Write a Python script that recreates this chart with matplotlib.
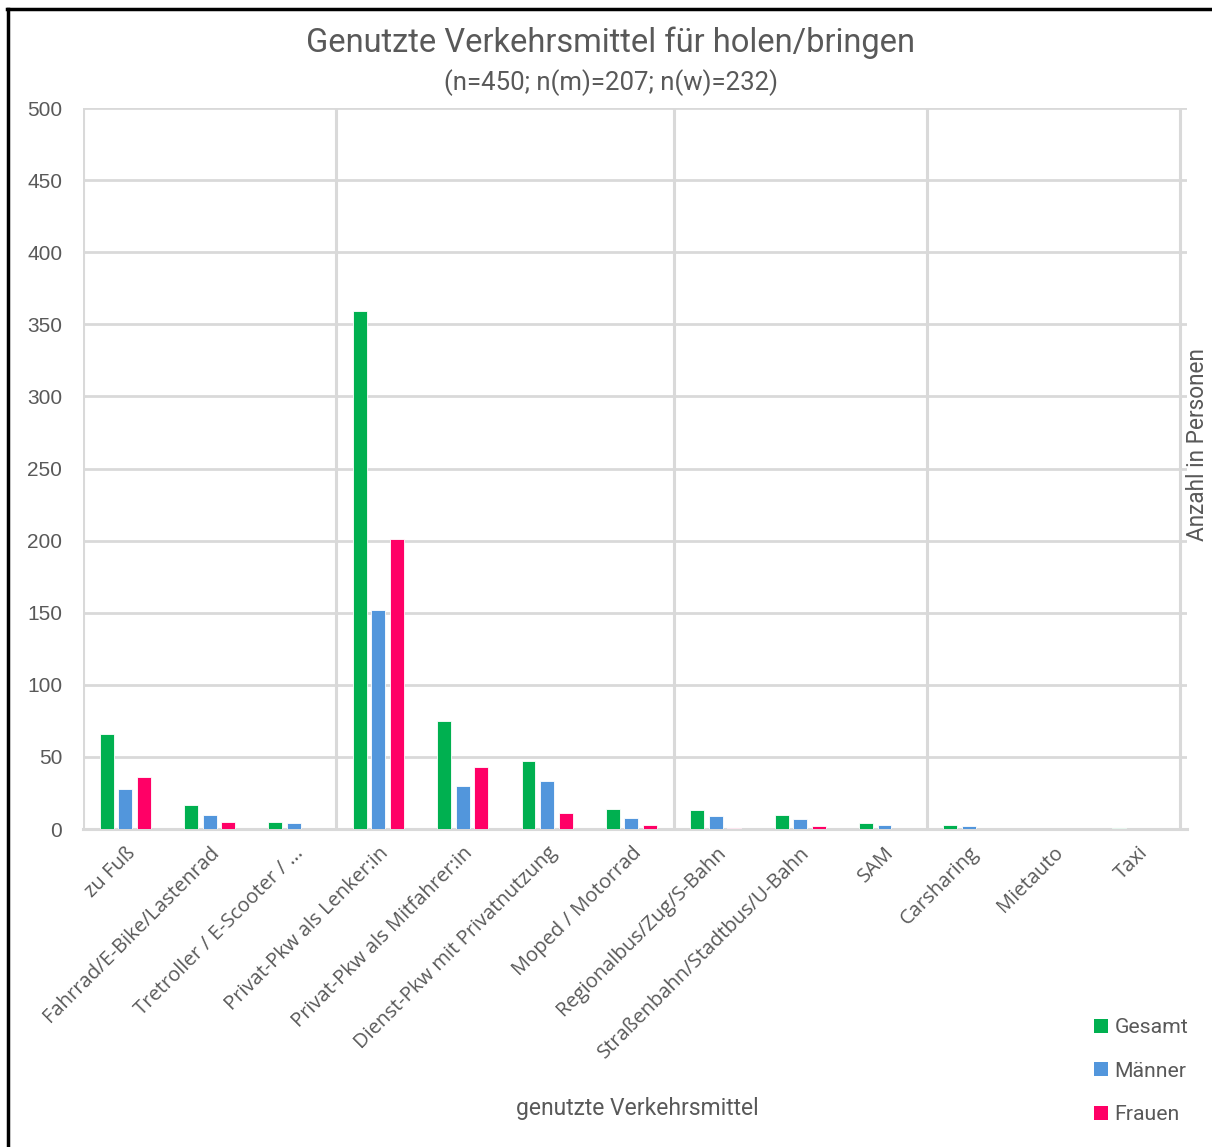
import numpy as np
import matplotlib
matplotlib.use("Agg")
import matplotlib.pyplot as plt
from matplotlib.patches import Patch
from matplotlib.lines import Line2D

kategorien = ["zu Fuß", "Fahrrad/E-Bike/Lastenrad", "Tretroller / E-Scooter / ...",
              "Privat-Pkw als Lenker:in", "Privat-Pkw als Mitfahrer:in",
              "Dienst-Pkw mit Privatnutzung", "Moped / Motorrad",
              "Regionalbus/Zug/S-Bahn", "Straßenbahn/Stadtbus/U-Bahn", "SAM",
              "Carsharing", "Mietauto", "Taxi"]
gesamt = [66, 17, 5, 359, 75, 47, 14, 13, 10, 4, 3, 0, 1]
maenner = [28, 10, 4, 152, 30, 33, 8, 9, 7, 3, 2, 0, 0]
frauen = [36, 5, 0, 201, 43, 11, 3, 1, 2, 0, 0, 0, 0]
serien = ["Gesamt", "Männer", "Frauen"]
farben = ["#00B050", "#5296DC", "#FF0066"]
gruppen_grenzen = [-0.5, 2.5, 6.5, 9.5, 12.5]

grau = "#595959"
gitter = "#D9D9D9"

fig = plt.figure(figsize=(12.12, 11.47), dpi=100)
ax = fig.add_axes([0.0685, 0.2772, 0.9105, 0.6286])

x = np.arange(len(kategorien))
w = 0.165
off = 0.22
for i, (werte, name, farbe) in enumerate(zip([gesamt, maenner, frauen], serien, farben)):
    ax.bar(x + (i - 1) * off, werte, width=w, color=farbe, edgecolor="white",
           linewidth=0.6, label=name, zorder=3)

ax.set_xlim(-0.5, 12.58)
ax.set_ylim(0, 500)
ax.set_yticks(range(0, 501, 50))
ax.yaxis.grid(True, color=gitter, linewidth=2, zorder=0)
for g in gruppen_grenzen:
    ax.axvline(g, color=gitter, linewidth=2.2, zorder=1)
for s in ["top", "right", "left"]:
    ax.spines[s].set_visible(False)
ax.spines["bottom"].set_color(gitter)
ax.spines["bottom"].set_linewidth(2.2)

ax.tick_params(axis="y", length=0, pad=15, labelsize=15, labelcolor=grau)
for t in ax.get_yticklabels():
    t.set_fontfamily("Liberation Sans")
ax.set_xticks(x)
ax.set_xticklabels(kategorien, rotation=45, ha="right", va="top",
                   rotation_mode="anchor", fontsize=14.5, color=grau,
                   fontfamily="Open Sans")
ax.tick_params(axis="x", length=0, pad=10)

fig.text(0.504, 0.963, "Genutzte Verkehrsmittel für holen/bringen", ha="center",
         va="center", fontsize=23.5, color=grau, fontfamily="Roboto")
fig.text(0.504, 0.928, "(n=450; n(m)=207; n(w)=232)", ha="center", va="center",
         fontsize=18.5, color=grau, fontfamily="Roboto")
fig.text(0.526, 0.034, "genutzte Verkehrsmittel", ha="center", va="center",
         fontsize=16.5, color=grau, fontfamily="Roboto")
fig.text(0.988, 0.612, "Anzahl in Personen", ha="center", va="center",
         rotation=90, fontsize=16.3, color=grau, fontfamily="Roboto")

handles = [Patch(facecolor=f, edgecolor="none") for f in farben]
leg = fig.legend(handles, serien, loc="center left", bbox_to_anchor=(0.887, 0.066),
                 frameon=False, handlelength=0.65, handleheight=0.65,
                 handletextpad=0.3, labelspacing=1.15, prop={"family": "Roboto", "size": 15.3})
for t in leg.get_texts():
    t.set_color(grau)

# schwarzer Rahmen oben und links
fig.add_artist(Line2D([0.007, 0.007], [0.0, 0.992], color="black", linewidth=2.5))
fig.add_artist(Line2D([0.006, 1.0], [0.992, 0.992], color="black", linewidth=2.5))

fig.savefig("out.png", dpi=100, facecolor="white")
